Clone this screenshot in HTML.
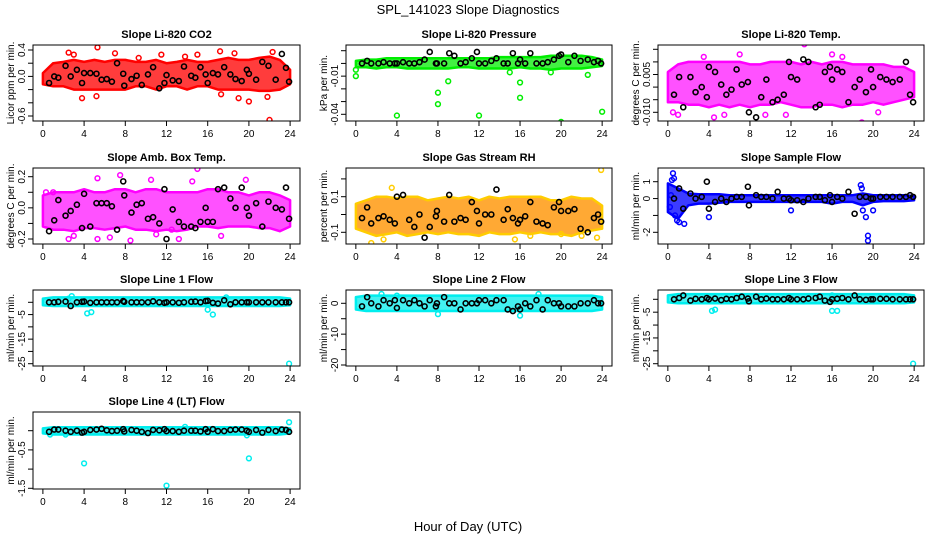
<!DOCTYPE html>
<html><head><meta charset="utf-8">
<style>
html,body{margin:0;padding:0;background:#fff;}
svg{display:block;font-family:"Liberation Sans",sans-serif;}
</style></head>
<body>
<svg id="chart" width="936" height="540" viewBox="0 0 936 540" xmlns="http://www.w3.org/2000/svg">
<rect x="0" y="0" width="936" height="540" fill="#fff"/>
<text x="468" y="14" text-anchor="middle" font-size="13">SPL_141023  Slope Diagnostics</text>
<text x="468" y="531" text-anchor="middle" font-size="13">Hour of Day (UTC)</text>
</svg>
<script>
const xTicks = [0,4,8,12,16,20,24];
const blackHours = [0.6,1.1,1.5,2.2,2.7,3.3,3.8,4.0,4.6,5.2,5.7,6.2,6.7,7.2,7.8,7.9,8.6,9.1,9.6,10.2,10.7,11.3,11.8,12.0,12.6,13.2,13.7,14.4,14.8,15.3,15.8,16.0,16.5,17.0,17.6,18.2,18.7,19.3,19.8,20.0,20.7,21.3,21.9,22.6,23.2,23.6,23.9];
const bandHours = [0,1,2,3,4,5,6,7,8,9,10,11,12,13,14,15,16,17,18,19,20,21,22,23,24];

const co2Up = [0.05,0.2,0.22,0.25,0.22,0.25,0.22,0.25,0.25,0.22,0.22,0.25,0.2,0.22,0.25,0.22,0.22,0.25,0.28,0.25,0.25,0.28,0.3,0.25,0.1];
const co2Lo = [-0.12,-0.15,-0.15,-0.2,-0.2,-0.2,-0.2,-0.2,-0.2,-0.15,-0.15,-0.2,-0.15,-0.15,-0.2,-0.15,-0.15,-0.2,-0.2,-0.2,-0.2,-0.22,-0.22,-0.2,-0.12];
const co2OutX = [2.5,3,5.3,3.8,5.2,7,9.3,11.5,17.2,17.3,18.6,19,20,21.8,22,22.3,15,13.8];
const co2OutY = [0.36,0.33,0.44,-0.33,-0.3,0.35,0.28,0.33,0.38,-0.27,0.35,-0.33,-0.38,-0.31,-0.66,0.37,0.33,0.3];
const co2Black = [-0.1,0,-0.02,0.16,0,0.1,-0.1,0.05,0.05,0.04,-0.05,-0.04,-0.08,0.2,0.04,-0.14,-0.04,0.01,-0.13,0.03,0.14,-0.18,-0.1,0.02,-0.06,-0.07,0.15,0.01,-0.02,0.14,0.03,-0.1,0.05,0.03,0.14,0.03,-0.04,-0.07,0.1,0.04,-0.05,0.22,0.16,-0.05,0.34,0.13,-0.08];

const presUp = [0.002,0.003,0.003,0.004,0.004,0.004,0.004,0.004,0.004,0.004,0.004,0.004,0.004,0.004,0.005,0.005,0.005,0.005,0.005,0.006,0.006,0.006,0.006,0.005,0.003];
const presLo = [-0.003,-0.003,-0.004,-0.003,-0.003,-0.004,-0.004,-0.004,-0.004,-0.004,-0.003,-0.003,-0.004,-0.004,-0.004,-0.004,-0.003,-0.004,-0.004,-0.005,-0.004,-0.004,-0.004,-0.003,-0.002];
const presOutX = [0,0,4,8,8,12,16,16,20,24,9,15,19,22.6];
const presOutY = [-0.005,-0.01,-0.041,-0.023,-0.032,-0.041,-0.015,-0.027,-0.046,-0.038,-0.014,-0.007,-0.007,-0.009];
const presBlack = [0,0.002,0,0,0.001,0,0,0,0.001,0,0,0.001,0.003,0.009,0,0,0,0.008,0.006,0,0.001,0.004,0.009,0,0,0.002,0.004,0,0,0.008,0,0.003,0,0.008,0,0,0.001,0.003,0.006,0.007,0.001,0.006,0.002,0.003,0.001,0.002,0];

const tempUp = [0.006,0.009,0.01,0.01,0.01,0.01,0.01,0.01,0.009,0.009,0.01,0.01,0.01,0.009,0.01,0.009,0.01,0.01,0.009,0.009,0.009,0.009,0.008,0.008,0.006];
const tempLo = [-0.006,-0.006,-0.007,-0.007,-0.008,-0.007,-0.008,-0.007,-0.008,-0.007,-0.007,-0.006,-0.007,-0.008,-0.008,-0.007,-0.007,-0.008,-0.007,-0.007,-0.006,-0.007,-0.006,-0.005,-0.004];
const tempOutX = [0.5,1,4.5,5.5,7,11.5,13.3,16,17,18.9,20.5,3.5,9.5];
const tempOutY = [-0.01,-0.011,-0.012,-0.011,0.013,-0.011,0.017,0.013,0.012,-0.014,-0.01,0.012,-0.011];
const tempBlack = [-0.003,0.004,-0.008,0.004,-0.002,0.0,-0.004,0.008,0.006,0.001,-0.003,-0.001,0.007,0.001,0.002,-0.010,-0.012,-0.004,0.003,-0.006,-0.005,-0.003,0.010,0.004,0.003,0.011,0.010,-0.008,-0.007,0.006,0.008,0.003,0.007,0.006,-0.006,0.0,0.003,-0.002,0.007,0.0,0.004,0.003,0.002,0.003,0.010,-0.003,-0.006];

const ambUp = [0.08,0.1,0.1,0.1,0.12,0.1,0.1,0.12,0.12,0.1,0.12,0.12,0.1,0.1,0.1,0.1,0.12,0.12,0.1,0.1,0.08,0.1,0.1,0.08,0.05];
const ambLo = [-0.12,-0.14,-0.14,-0.15,-0.13,-0.13,-0.14,-0.13,-0.12,-0.14,-0.14,-0.15,-0.14,-0.15,-0.14,-0.12,-0.12,-0.13,-0.12,-0.12,-0.12,-0.13,-0.13,-0.15,-0.12];
const ambOutX = [0.3,1,2.5,3,5.3,5.3,6.5,7.5,8.5,10.5,12.5,13.2,14.5,15,17.3,19.7,11];
const ambOutY = [0.1,0.1,-0.2,-0.18,0.19,-0.2,-0.19,0.21,-0.21,0.18,-0.14,-0.2,0.17,0.25,-0.18,0.18,-0.17];
const ambBlack = [-0.15,-0.08,0.05,-0.05,-0.02,0.02,-0.13,0.09,-0.12,0.03,0.03,0.03,0.01,-0.14,0.17,0.08,-0.03,0.02,0.03,-0.07,-0.06,-0.1,0.12,-0.2,-0.01,-0.09,-0.12,-0.12,-0.13,-0.09,0.0,-0.09,-0.09,0.12,0.13,0.06,0.0,0.13,0.0,-0.05,0.03,-0.12,0.04,0.0,-0.01,0.13,-0.07];

const rhUp = [0.06,0.08,0.1,0.1,0.09,0.1,0.1,0.08,0.09,0.1,0.09,0.1,0.08,0.1,0.09,0.1,0.1,0.1,0.1,0.08,0.08,0.1,0.09,0.09,0.05];
const rhLo = [-0.08,-0.1,-0.12,-0.11,-0.1,-0.12,-0.11,-0.1,-0.11,-0.1,-0.11,-0.11,-0.12,-0.1,-0.11,-0.11,-0.1,-0.11,-0.1,-0.11,-0.11,-0.12,-0.1,-0.09,-0.08];
const rhOutX = [3.5,23.9,1.5,2.7,15.5,17,20,22,23.5];
const rhOutY = [0.15,0.25,-0.16,-0.14,-0.14,-0.12,-0.11,-0.12,-0.13];
const rhBlack = [-0.02,0.04,-0.05,-0.02,-0.01,-0.03,-0.05,0.1,0.11,-0.03,-0.07,0.0,-0.13,-0.07,-0.01,0.02,-0.04,0.11,-0.04,-0.02,-0.03,0.07,0.02,-0.05,0.0,0.0,0.14,-0.03,0.03,-0.02,-0.05,-0.03,-0.01,0.07,-0.04,-0.05,-0.06,0.04,0.07,0.02,0.02,0.03,-0.08,-0.1,-0.02,0.0,-0.04];

const sfUp = [0.9,0.6,0.3,0.25,0.25,0.25,0.2,0.2,0.2,0.2,0.2,0.2,0.2,0.2,0.2,0.2,0.2,0.2,0.2,0.3,0.2,0.2,0.2,0.2,0.15];
const sfLo = [-0.8,-1.2,-0.4,-0.3,-0.3,-0.25,-0.2,-0.2,-0.2,-0.2,-0.2,-0.2,-0.2,-0.2,-0.2,-0.2,-0.3,-0.2,-0.2,-0.4,-0.2,-0.15,-0.15,-0.15,-0.1];
const sfOutX = [0.2,0.3,0.4,0.5,0.6,0.7,0.9,1.1,1.6,4,12,18.8,18.9,19.3,19.5,19.5,20,19];
const sfOutY = [-0.5,0.2,1.1,1.5,1.2,-1,-1.3,-1.4,-1.5,-1.1,-0.7,0.8,0.6,-1.1,-2.2,-2.5,-0.7,-0.7];
const sfBlack = [0,0.6,-0.6,0.3,0,0.1,1,-0.6,-0.2,0,-0.2,0,0.1,0.1,0.7,-0.4,0.2,0.1,0.1,0,0.4,0,0,-0.1,-0.1,-0.2,0,0.1,0.1,-0.1,0.2,-0.2,0.1,0,0.4,-0.9,0.1,0.1,0,0,0.1,0.1,0.1,0.1,0.1,0.2,0.1];

const l1Up = [1.5,2,2,2,2,2,2,2,2,2,2,2,2,2,2,2,2,2,2,2,2,2,2,2,1.5];
const l1Lo = [-1.2,-1.5,-1.5,-1.5,-1.5,-1.5,-1.5,-1.5,-1.5,-1.5,-1.5,-1.5,-1.5,-1.5,-1.5,-1.5,-1.5,-1.5,-1.5,-1.5,-1.5,-1.5,-1.5,-1.5,-1.2];
const l1OutX = [2.5,2.8,4.3,4.7,16,16.5,17.8,23.9];
const l1OutY = [1.5,2.5,-4.5,-4,-3,-5,2,-25];
const l1Black = [0,0,0.2,0.3,-1.5,0,0.2,0.3,-0.2,0,0,0,0,0,0.5,0.2,0,0,0,0,0.4,0,-0.2,0,0,-0.2,0,0.2,0.3,0,0.5,0.6,-0.2,-0.5,0.8,-0.8,0,0,0,0,0,0,0,0,0,0,0];

const l2Up = [2,2.5,2.5,2.5,2.5,2.5,2.5,2.5,2.5,2.5,2.5,2.5,2.5,2.5,2.5,2.5,2.5,2.5,2.5,2.5,2.5,2.5,2.5,2.5,2];
const l2Lo = [-2,-2.5,-2.5,-2.5,-2.5,-2.5,-2.5,-2.5,-2.5,-2.5,-2.5,-2.5,-2.5,-2.5,-2.5,-2.5,-2.5,-2.5,-2.5,-2.5,-2.5,-2.5,-2.5,-2.5,-2];
const l2OutX = [8,16,17.8,23.9,2.5,4];
const l2OutY = [-3.5,-4,3,-21.5,3,2.5];
const l2Black = [-1,2,0,-1,1,0,1,-1.5,1,0,1,0,-1,1,-1,0,2,0,0,-2,0,0,0,1,1,0,1,1,-2,-2.5,-1,-2,0,-1,1,-2,1,0,0,-1,-1,-1,0,0,1,0,0];

const l3Up = [1.5,2,2,2,2,2,2,2,2,2,2,2,2,2,2,2,2,2,2,2,2,2,2,2,1.5];
const l3Lo = [-1.2,-1.5,-1.5,-1.5,-1.5,-1.5,-1.5,-1.5,-1.5,-1.5,-1.5,-1.5,-1.5,-1.5,-1.5,-1.5,-1.5,-1.5,-1.5,-1.5,-1.5,-1.5,-1.5,-1.5,-1.2];
const l3OutX = [4.3,4.6,16,16.5,16,23.9];
const l3OutY = [-4.5,-4,-4.5,-4.5,1.5,-25];
const l3Black = [0,0.5,1.5,-0.5,0.2,0,0.5,0,0.3,-0.3,0.2,0,0.5,1,0.3,-0.8,1,0,0.3,0,0,0,0.5,0,0,0,0.3,0.5,1,-0.5,-1,0,0.2,0.5,0,1.5,0,-0.2,0,0,0.2,0.2,0,0,0,0,0];

const l4Up = [0.06,0.09,0.09,0.09,0.09,0.09,0.09,0.09,0.09,0.09,0.09,0.09,0.09,0.09,0.09,0.09,0.09,0.09,0.09,0.09,0.09,0.09,0.09,0.09,0.06];
const l4Lo = [-0.07,-0.1,-0.1,-0.1,-0.1,-0.1,-0.1,-0.1,-0.1,-0.1,-0.1,-0.1,-0.1,-0.1,-0.1,-0.1,-0.1,-0.1,-0.1,-0.1,-0.1,-0.1,-0.1,-0.1,-0.07];
const l4OutX = [4,12,20,23.9,13.8,19.8,2.2,0.7];
const l4OutY = [-0.85,-1.43,-0.72,0.22,0.1,-0.12,-0.1,-0.1];
const l4Black = [-0.03,0.03,0.03,0,-0.03,0.0,-0.05,-0.03,0.02,0.03,0.05,0.01,-0.01,0.0,0.04,-0.02,0.02,0.0,-0.03,-0.06,0.02,0.01,0.04,-0.01,-0.01,-0.03,0.0,0.0,0.0,-0.02,0.04,-0.03,0.04,-0.01,-0.01,0.02,0.03,0.03,0.0,-0.03,0.02,-0.05,0.02,-0.01,0.03,0.02,-0.03];

const NS = 'http://www.w3.org/2000/svg';
const svg = document.getElementById('chart');
const COLS = [[33,300],[346,612],[658,924]];
const ROWS = [[45,121],[168,244],[290,366],[412,489]];

function mk(tag, attrs, parent) {
  const e = document.createElementNS(NS, tag);
  for (const k in attrs) e.setAttribute(k, attrs[k]);
  (parent || svg).appendChild(e);
  return e;
}

const panels = [
  {id:'co2', c:0, r:0, title:'Slope Li-820 CO2', ylab:'Licor ppm per min.', a:[0.4,50,-0.6,116], ticks:[0.4,0.2,0,-0.2,-0.4,-0.6], labels:[[0.4,'0.4'],[0,'0.0'],[-0.6,'-0.6']], col:'#ff0000', band:'#ff1a1a', up:co2Up, lo:co2Lo, ox:co2OutX, oy:co2OutY, bk:co2Black},
  {id:'pressure', c:1, r:0, title:'Slope Li-820 Pressure', ylab:'kPa per min.', a:[0.01,50.7,-0.04,114.3], ticks:[0.01,0,-0.01,-0.02,-0.03,-0.04], labels:[[-0.01,'-0.01'],[-0.04,'-0.04']], col:'#00ee00', band:'#22ee22', up:presUp, lo:presLo, ox:presOutX, oy:presOutY, bk:presBlack},
  {id:'licor-temp', c:2, r:0, title:'Slope Li-820 Temp.', ylab:'degrees C per min.', a:[0.015,49.3,-0.010,112.3], ticks:[0.015,0.01,0.005,0,-0.005,-0.01], labels:[[0.005,'0.005'],[-0.01,'-0.010']], col:'#ff00ff', band:'#ff33ff', up:tempUp, lo:tempLo, ox:tempOutX, oy:tempOutY, bk:tempBlack},
  {id:'amb-box-temp', c:0, r:1, title:'Slope Amb. Box Temp.', ylab:'degrees C per min.', a:[0.2,176.7,-0.2,239], ticks:[0.2,0.1,0,-0.1,-0.2], labels:[[0.2,'0.2'],[0,'0.0'],[-0.2,'-0.2']], col:'#ff00ff', band:'#ff33ff', up:ambUp, lo:ambLo, ox:ambOutX, oy:ambOutY, bk:ambBlack},
  {id:'gas-stream-rh', c:1, r:1, title:'Slope Gas Stream RH', ylab:'percent per min.', a:[0.1,196.7,-0.1,232.3], ticks:[0.2,0.1,0,-0.1], labels:[[0.1,'0.1'],[-0.1,'-0.1']], col:'#ffcc00', band:'#ff9a10', up:rhUp, lo:rhLo, ox:rhOutX, oy:rhOutY, bk:rhBlack},
  {id:'sample-flow', c:2, r:1, title:'Slope Sample Flow', ylab:'ml/min per min.', a:[1,181.7,-2,232.3], ticks:[1,0,-1,-2], labels:[[1,'1'],[0,'0'],[-2,'-2']], col:'#0000ff', band:'#1a1aff', up:sfUp, lo:sfLo, ox:sfOutX, oy:sfOutY, bk:sfBlack},
  {id:'line1-flow', c:0, r:2, title:'Slope Line 1 Flow', ylab:'ml/min per min.', a:[0,302.3,-25,363.7], ticks:[0,-5,-10,-15,-20,-25], labels:[[-5,'-5'],[-15,'-15'],[-25,'-25']], col:'#00eeee', band:'#22eeee', up:l1Up, lo:l1Lo, ox:l1OutX, oy:l1OutY, bk:l1Black},
  {id:'line2-flow', c:1, r:2, title:'Slope Line 2 Flow', ylab:'ml/min per min.', a:[0,303.3,-20,365], ticks:[0,-5,-10,-15,-20], labels:[[0,'0'],[-10,'-10'],[-20,'-20']], col:'#00eeee', band:'#22eeee', up:l2Up, lo:l2Lo, ox:l2OutX, oy:l2OutY, bk:l2Black},
  {id:'line3-flow', c:2, r:2, title:'Slope Line 3 Flow', ylab:'ml/min per min.', a:[0,299.3,-25,363.7], ticks:[0,-5,-10,-15,-20,-25], labels:[[-5,'-5'],[-15,'-15'],[-25,'-25']], col:'#00eeee', band:'#22eeee', up:l3Up, lo:l3Lo, ox:l3OutX, oy:l3OutY, bk:l3Black},
  {id:'line4-flow', c:0, r:3, title:'Slope Line 4 (LT) Flow', ylab:'ml/min per min.', a:[0,430.7,-1.5,488.3], ticks:[0,-0.5,-1,-1.5], labels:[[-0.5,'-0.5'],[-1.5,'-1.5']], col:'#00eeee', band:'#22eeee', up:l4Up, lo:l4Lo, ox:l4OutX, oy:l4OutY, bk:l4Black}
];

panels.forEach(p => {
  const [x0,x1] = COLS[p.c], [y0,y1] = ROWS[p.r];
  const g = mk('g', {});
  
  
  const xs = (h) => x0 + (x1 - x0) * (h + 0.96) / 25.92;
  const ys = (v) => p.a[1] + (v - p.a[0]) * (p.a[3] - p.a[1]) / (p.a[2] - p.a[0]);
  const clip = 'clip-' + p.id;
  const cp = mk('clipPath', {id: clip}, g);
  mk('rect', {x:x0, y:y0, width:x1-x0, height:y1-y0}, cp);
  const plot = mk('g', {'clip-path':'url(#' + clip + ')'}, g);

  // band (dense cloud)
  let d = '';
  bandHours.forEach((h,i) => { d += (i ? 'L' : 'M') + xs(h).toFixed(1) + ',' + ys(p.up[i]).toFixed(1); });
  for (let i = bandHours.length - 1; i >= 0; i--) d += 'L' + xs(bandHours[i]).toFixed(1) + ',' + ys(p.lo[i]).toFixed(1);
  const band = mk('path', {d: d + 'Z', fill: p.band, 'fill-opacity':'0.85', stroke: p.col, 'stroke-width':'2.5', 'stroke-linejoin':'round'}, plot);
  
  

  // colored outlier points
  p.ox.forEach((h,i) => {
    const c = mk('circle', {cx: xs(h), cy: ys(p.oy[i]), r: 2.4, fill: 'none', stroke: p.col, 'stroke-width': 1.5}, plot);
    
    
  });
  // black points
  const n = Math.min(blackHours.length, p.bk.length);
  for (let i = 0; i < n; i++) {
    const c = mk('circle', {cx: xs(blackHours[i]), cy: ys(p.bk[i]), r: 2.5, fill: 'none', stroke: '#000', 'stroke-width': 1.6}, plot);
    
    
  }

  // frame
  const fr = mk('rect', {x:x0, y:y0, width:x1-x0, height:y1-y0, fill:'none', stroke:'#000', 'stroke-width':1}, g);
  
  

  // x axis
  mk('line', {x1: xs(xTicks[0]), x2: xs(xTicks[xTicks.length-1]), y1: y1, y2: y1, stroke:'#000'}, g);
  xTicks.forEach(t => {
    mk('line', {x1: xs(t), x2: xs(t), y1: y1, y2: y1 + 5, stroke:'#000'}, g);
    const tx = mk('text', {x: xs(t), y: y1 + 16, 'text-anchor':'middle', 'font-size': 10}, g);
    tx.textContent = t;
    
    
  });
  // y axis
  mk('line', {x1: x0, x2: x0, y1: ys(p.ticks[0]), y2: ys(p.ticks[p.ticks.length-1]), stroke:'#000'}, g);
  p.ticks.forEach(t => mk('line', {x1: x0 - 5, x2: x0, y1: ys(t), y2: ys(t), stroke:'#000'}, g));
  p.labels.forEach(([v, s]) => {
    const yy = ys(v), xx = x0 - 8;
    const tx = mk('text', {x: xx, y: yy, 'text-anchor':'middle', 'font-size': 10, transform: 'rotate(-90 ' + xx + ' ' + yy + ')'}, g);
    tx.textContent = s;
    
    
  });
  const ym = (y0 + y1) / 2, xl = x0 - 19;
  const yt = mk('text', {x: xl, y: ym, 'text-anchor':'middle', 'font-size': 10, transform: 'rotate(-90 ' + xl + ' ' + ym + ')'}, g);
  yt.textContent = p.ylab;
  
  
  const tt = mk('text', {x: (x0 + x1) / 2, y: y0 - 7, 'text-anchor':'middle', 'font-size': 11, 'font-weight':'bold'}, g);
  tt.textContent = p.title;
  
  
});
</script>
</body></html>
